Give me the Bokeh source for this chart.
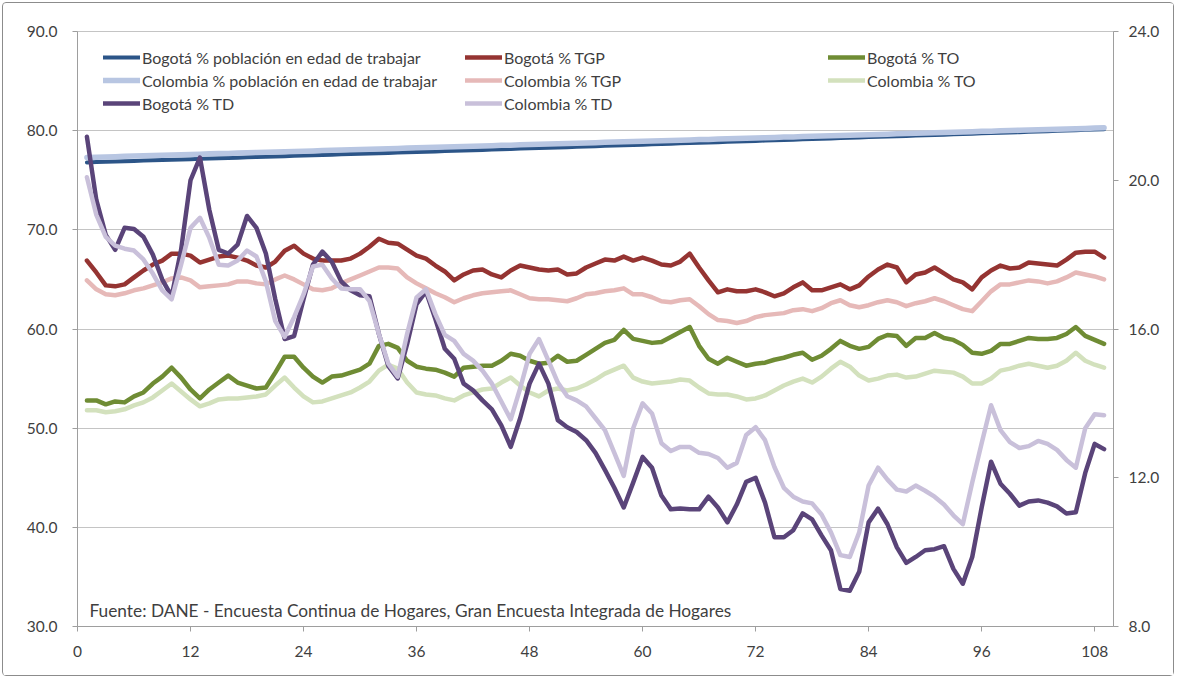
from bokeh.plotting import figure
from bokeh.models import (Range1d, LinearAxis, FixedTicker, PrintfTickFormatter,
                          Legend, LegendItem, Label)
from bokeh.embed import file_html
from bokeh.resources import INLINE

# ---------------- data ----------------
months = list(range(1, 110))
x_ticks = [0, 12, 24, 36, 48, 60, 72, 84, 96, 108]
left_ticks = [30, 40, 50, 60, 70, 80, 90]
right_ticks = [8, 12, 16, 20, 24]

bog_pet = [76.80, 76.83, 76.86, 76.89, 76.92, 76.95, 76.98, 77.01, 77.04, 77.07,
           77.10, 77.13, 77.16, 77.19, 77.22, 77.25, 77.28, 77.31, 77.34, 77.37,
           77.40, 77.43, 77.46, 77.49, 77.52, 77.55, 77.58, 77.61, 77.64, 77.67,
           77.70, 77.73, 77.76, 77.79, 77.82, 77.85, 77.88, 77.91, 77.94, 77.97,
           78.00, 78.03, 78.06, 78.10, 78.13, 78.16, 78.19, 78.22, 78.25, 78.28,
           78.31, 78.34, 78.37, 78.40, 78.43, 78.47, 78.50, 78.53, 78.56, 78.59,
           78.62, 78.65, 78.68, 78.72, 78.75, 78.78, 78.81, 78.84, 78.87, 78.90,
           78.94, 78.97, 79.00, 79.03, 79.06, 79.09, 79.13, 79.16, 79.19, 79.22,
           79.25, 79.28, 79.32, 79.35, 79.38, 79.41, 79.44, 79.47, 79.51, 79.54,
           79.57, 79.60, 79.63, 79.66, 79.70, 79.73, 79.76, 79.79, 79.82, 79.85,
           79.89, 79.92, 79.95, 79.98, 80.01, 80.05, 80.08, 80.11, 80.14]

col_pet = [77.30, 77.33, 77.35, 77.38, 77.41, 77.44, 77.46, 77.49, 77.52, 77.55,
           77.58, 77.60, 77.63, 77.66, 77.69, 77.71, 77.74, 77.77, 77.80, 77.82,
           77.85, 77.88, 77.91, 77.93, 77.96, 77.99, 78.02, 78.05, 78.07, 78.10,
           78.13, 78.16, 78.18, 78.21, 78.24, 78.27, 78.29, 78.32, 78.35, 78.38,
           78.41, 78.43, 78.46, 78.49, 78.52, 78.54, 78.57, 78.60, 78.63, 78.65,
           78.68, 78.71, 78.74, 78.76, 78.79, 78.82, 78.85, 78.88, 78.90, 78.93,
           78.96, 78.99, 79.01, 79.04, 79.07, 79.10, 79.12, 79.15, 79.18, 79.21,
           79.24, 79.26, 79.29, 79.32, 79.35, 79.37, 79.40, 79.43, 79.46, 79.48,
           79.51, 79.54, 79.57, 79.59, 79.62, 79.65, 79.68, 79.71, 79.73, 79.76,
           79.79, 79.82, 79.84, 79.87, 79.90, 79.93, 79.95, 79.98, 80.01, 80.04,
           80.07, 80.09, 80.12, 80.15, 80.18, 80.20, 80.23, 80.26, 80.29]

bog_tgp = [66.9, 65.7, 64.4, 64.3, 64.5, 65.2, 65.9, 66.5, 66.9, 67.6,
           67.6, 67.4, 66.7, 67.0, 67.3, 67.4, 67.2, 66.9, 66.4, 66.2,
           66.8, 67.9, 68.4, 67.6, 67.1, 66.9, 66.9, 66.9, 67.1, 67.6,
           68.3, 69.1, 68.7, 68.6, 68.0, 67.4, 67.1, 66.4, 65.8, 64.9,
           65.5, 65.9, 66.0, 65.5, 65.2, 65.9, 66.4, 66.2, 66.0, 65.9,
           66.0, 65.5, 65.6, 66.2, 66.6, 67.0, 66.9, 67.3, 66.9, 67.2,
           66.9, 66.5, 66.4, 66.8, 67.6, 66.2, 64.9, 63.7, 64.0, 63.8,
           63.8, 64.0, 63.7, 63.3, 63.6, 64.2, 64.7, 63.9, 63.9, 64.2,
           64.5, 64.0, 64.4, 65.3, 66.0, 66.5, 66.2, 64.7, 65.5, 65.7,
           66.2, 65.6, 65.0, 64.7, 64.0, 65.2, 65.9, 66.4, 66.1, 66.2,
           66.7, 66.6, 66.5, 66.4, 67.0, 67.7, 67.8, 67.8, 67.2]

col_tgp = [64.9, 64.0, 63.5, 63.4, 63.6, 63.9, 64.1, 64.4, 64.7, 65.1,
           65.2, 64.9, 64.2, 64.3, 64.4, 64.5, 64.8, 64.8, 64.6, 64.5,
           65.0, 65.4, 65.0, 64.5, 64.0, 63.9, 64.1, 64.6, 65.0, 65.4,
           65.8, 66.2, 66.2, 66.1, 65.2, 64.6, 64.1, 63.6, 63.2, 62.7,
           63.1, 63.4, 63.6, 63.7, 63.8, 63.9, 63.5, 63.1, 63.0, 63.0,
           62.9, 62.8, 63.1, 63.5, 63.6, 63.8, 63.9, 64.1, 63.5, 63.5,
           63.2, 62.8, 62.7, 62.9, 63.0, 62.3, 61.5, 60.9, 60.8, 60.6,
           60.8, 61.2, 61.4, 61.5, 61.6, 61.9, 62.0, 61.8, 62.1, 62.6,
           62.9, 62.4, 62.2, 62.4, 62.7, 62.9, 62.7, 62.3, 62.6, 62.8,
           63.1, 62.8, 62.4, 62.0, 61.8, 62.8, 63.8, 64.5, 64.5, 64.7,
           64.9, 64.8, 64.6, 64.8, 65.2, 65.7, 65.5, 65.3, 65.0]

bog_to = [52.8, 52.8, 52.4, 52.7, 52.6, 53.2, 53.6, 54.5, 55.2, 56.1,
          55.1, 53.9, 53.0, 53.9, 54.6, 55.3, 54.6, 54.3, 54.0, 54.1,
          55.6, 57.2, 57.2, 56.1, 55.2, 54.6, 55.2, 55.3, 55.6, 55.9,
          56.5, 58.3, 58.5, 58.1, 56.8, 56.2, 56.0, 55.9, 55.6, 55.2,
          56.1, 56.2, 56.3, 56.3, 56.8, 57.5, 57.3, 56.8, 56.5, 56.6,
          57.3, 56.7, 56.8, 57.4, 58.0, 58.6, 58.9, 59.9, 59.0, 58.8,
          58.6, 58.7, 59.2, 59.7, 60.2, 58.3, 57.0, 56.5, 57.1, 56.7,
          56.3, 56.5, 56.6, 56.9, 57.1, 57.4, 57.6, 56.9, 57.3, 58.0,
          58.8, 58.3, 58.0, 58.2, 59.0, 59.4, 59.3, 58.3, 59.1, 59.1,
          59.6, 59.1, 58.9, 58.4, 57.6, 57.5, 57.8, 58.5, 58.5, 58.8,
          59.1, 59.0, 59.0, 59.1, 59.5, 60.2, 59.3, 58.9, 58.5]

col_to = [51.8, 51.8, 51.6, 51.7, 51.9, 52.3, 52.6, 53.1, 53.8, 54.5,
          53.7, 52.9, 52.2, 52.5, 52.9, 53.0, 53.0, 53.1, 53.2, 53.4,
          54.3, 55.1, 54.1, 53.2, 52.6, 52.7, 53.0, 53.3, 53.6, 54.1,
          54.7, 55.8, 56.4, 56.0, 54.6, 53.6, 53.4, 53.3, 53.0, 52.8,
          53.3, 53.6, 53.9, 54.0, 54.6, 55.1, 54.3, 53.6, 53.2, 53.8,
          54.0, 53.8, 54.0, 54.4, 54.9, 55.5, 55.9, 56.3, 55.1, 54.7,
          54.5, 54.6, 54.7, 54.9, 54.8, 54.1, 53.5, 53.4, 53.4, 53.2,
          52.9, 53.0, 53.3, 53.8, 54.3, 54.7, 55.0, 54.6, 55.2, 56.0,
          56.7, 56.2, 55.3, 54.8, 55.0, 55.3, 55.4, 55.1, 55.2, 55.5,
          55.8, 55.7, 55.6, 55.2, 54.5, 54.5, 55.0, 55.8, 56.0, 56.3,
          56.5, 56.3, 56.1, 56.3, 56.8, 57.6, 56.8, 56.4, 56.1]

bog_td = [21.17, 19.47, 18.53, 18.13, 18.72, 18.69, 18.48, 18.00, 17.33, 16.88,
          18.13, 20.00, 20.61, 19.20, 18.13, 18.03, 18.27, 19.04, 18.72, 18.03,
          16.80, 15.73, 15.81, 16.80, 17.73, 18.08, 17.81, 17.28, 17.04, 16.91,
          16.88, 15.87, 15.01, 14.67, 15.60, 16.67, 17.01, 16.27, 15.47, 15.20,
          14.53, 14.35, 14.08, 13.84, 13.41, 12.83, 13.60, 14.53, 15.07, 14.53,
          13.55, 13.36, 13.23, 13.01, 12.67, 12.21, 11.73, 11.20, 11.87, 12.56,
          12.27, 11.52, 11.15, 11.17, 11.15, 11.15, 11.49, 11.20, 10.80, 11.28,
          11.89, 12.00, 11.33, 10.40, 10.40, 10.59, 11.04, 10.88, 10.45, 10.05,
          9.01, 8.96, 9.47, 10.80, 11.17, 10.75, 10.13, 9.71, 9.87, 10.05,
          10.08, 10.16, 9.55, 9.15, 9.87, 11.20, 12.43, 11.84, 11.57, 11.25,
          11.36, 11.39, 11.33, 11.23, 11.04, 11.07, 12.13, 12.91, 12.77]

col_td = [20.08, 19.07, 18.48, 18.24, 18.16, 18.11, 17.87, 17.49, 17.04, 16.80,
          17.73, 18.72, 18.99, 18.45, 17.73, 17.71, 17.84, 18.11, 17.95, 17.28,
          16.21, 15.79, 16.32, 16.93, 17.68, 17.73, 17.36, 17.09, 17.07, 17.07,
          16.75, 15.87, 15.07, 14.72, 15.87, 16.85, 17.07, 16.40, 15.84, 15.68,
          15.33, 15.15, 14.88, 14.53, 14.05, 13.57, 14.40, 15.33, 15.73, 15.15,
          14.56, 14.19, 14.08, 13.92, 13.60, 13.28, 12.67, 12.05, 13.33, 14.00,
          13.73, 12.93, 12.72, 12.83, 12.83, 12.67, 12.64, 12.53, 12.27, 12.40,
          13.15, 13.36, 13.01, 12.29, 11.73, 11.49, 11.36, 11.31, 11.01, 10.53,
          9.92, 9.87, 10.53, 11.79, 12.27, 11.95, 11.68, 11.63, 11.79, 11.65,
          11.49, 11.28, 10.99, 10.75, 11.87, 12.93, 13.95, 13.28, 12.96, 12.80,
          12.85, 12.99, 12.91, 12.75, 12.48, 12.27, 13.33, 13.71, 13.68]

source_text = "Fuente: DANE - Encuesta Continua de Hogares, Gran Encuesta Integrada de Hogares"

for s in (bog_pet, col_pet, bog_tgp, col_tgp, bog_to, col_to, bog_td, col_td):
    assert len(s) == len(months), len(s)

# ---------------- figure ----------------
FONT = "Lato"
TEXT = "#3f3f3f"

p = figure(width=1172, height=674, x_range=Range1d(0, 110), y_range=Range1d(30, 90),
           output_backend="svg", toolbar_location=None,
           min_border_left=74, min_border_right=62, min_border_top=28, min_border_bottom=51)
p.extra_y_ranges = {"td": Range1d(8, 24)}
p.background_fill_color = "white"
p.border_fill_color = "white"
p.outline_line_color = "#c4c4c4"
p.styles = {"border": "1px solid #8c8c8c", "border-radius": "4px",
            "margin-left": "2px", "margin-top": "2px"}

p.xgrid.visible = False
p.ygrid.ticker = FixedTicker(ticks=left_ticks)
p.ygrid.grid_line_color = "#c4c4c4"

p.xaxis.ticker = FixedTicker(ticks=x_ticks)
p.yaxis.ticker = FixedTicker(ticks=left_ticks)
p.yaxis.formatter = PrintfTickFormatter(format="%.1f")

right = LinearAxis(y_range_name="td", ticker=FixedTicker(ticks=right_ticks),
                   formatter=PrintfTickFormatter(format="%.1f"))
p.add_layout(right, "right")

for ax in (p.xaxis[0], p.yaxis[0], right):
    ax.axis_line_color = "#9e9e9e"
    ax.major_tick_line_color = "#9e9e9e"
    ax.major_tick_out = 5
    ax.major_tick_in = 0
    ax.minor_tick_line_color = None
    ax.major_label_text_font = FONT
    ax.major_label_text_font_size = "15.5px"
    ax.major_label_text_color = TEXT
p.yaxis[0].major_label_standoff = 15
right.major_label_standoff = 10
p.xaxis[0].major_label_standoff = 14

# ---------------- series ----------------
def add(series, color, width=4.5, rng="default"):
    return p.line(months, series, line_color=color, line_width=width,
                  line_join="round", line_cap="round", y_range_name=rng)

r_bog_pet = add(bog_pet, "#2c5588", 4)
r_bog_tgp = add(bog_tgp, "#953432")
r_bog_to = add(bog_to, "#6f8c34")
r_col_pet = add(col_pet, "#b8c6e2", 5.5)
r_col_tgp = add(col_tgp, "#e6b9b8")
r_col_to = add(col_to, "#d3e1bd")
r_bog_td = add(bog_td, "#5a4479", 4.5, "td")
r_col_td = add(col_td, "#c9c0da", 4.5, "td")

# ---------------- legends ----------------
def legend(items, loc):
    lg = Legend(items=[LegendItem(label=l, renderers=[r]) for l, r in items],
                location=loc, orientation="vertical",
                background_fill_alpha=0, border_line_alpha=0,
                padding=0, margin=0, spacing=3,
                glyph_width=37, glyph_height=20, label_height=20, label_standoff=2,
                label_text_font=FONT, label_text_font_size="16px",
                label_text_color=TEXT)
    p.add_layout(lg)

legend([("Bogotá % población en edad de trabajar", r_bog_pet),
        ("Colombia % población en edad de trabajar", r_col_pet),
        ("Bogotá % TD", r_bog_td)], (26, 513))
legend([("Bogotá % TGP", r_bog_tgp),
        ("Colombia % TGP", r_col_tgp),
        ("Colombia % TD", r_col_td)], (388, 513))
legend([("Bogotá % TO", r_bog_to),
        ("Colombia % TO", r_col_to)], (751, 536))

p.add_layout(Label(x=1.27, y=31.6, text=source_text, text_font=FONT,
                   text_font_size="17.3px", text_color=TEXT, text_baseline="middle"))

open("out.html", "w").write(file_html(p, INLINE))
